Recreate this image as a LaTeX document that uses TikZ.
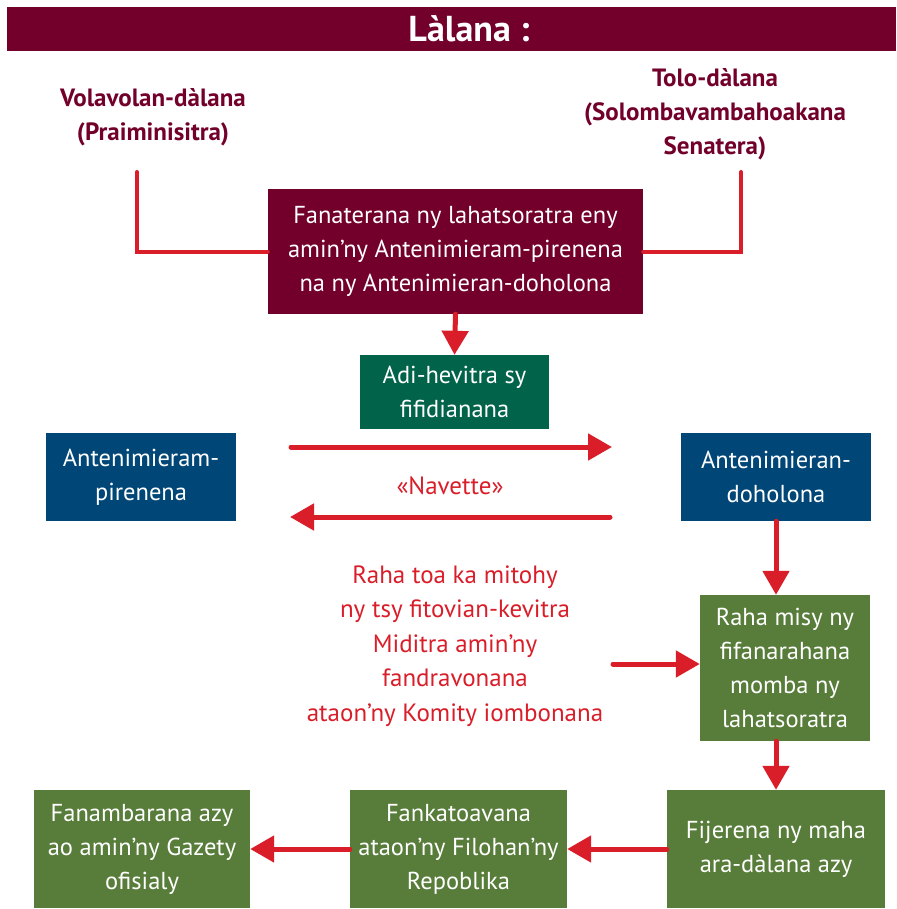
\documentclass[tikz,border=0pt]{standalone}
\usepackage{fontspec}
\setmainfont{PT Sans}
\usetikzlibrary{arrows.meta}
\definecolor{maroon}{HTML}{72002B}
\definecolor{dgreen}{HTML}{00634A}
\definecolor{dblue}{HTML}{004677}
\definecolor{lgreen}{HTML}{587D3A}
\definecolor{ared}{HTML}{D91E2A}
\tikzset{
  box/.style={rectangle, inner sep=0pt, align=center, text=white, font=\fontsize{24.5}{34}\selectfont},
  lbl/.style={align=center, text=maroon, font=\fontsize{25}{34}\selectfont\bfseries},
  rtext/.style={align=center, text=ared, font=\fontsize{25}{34.5}\selectfont},
  conn/.style={draw=ared, line width=4pt, line cap=round},
  arr/.style={draw=ared, line width=5pt, line cap=round, -{Triangle[length=24pt,width=26pt]}}
}
\begin{document}
\begin{tikzpicture}[x=1pt,y=-1pt]
\useasboundingbox (0,0) rectangle (896,909);
\fill[white] (0,0) rectangle (896,909);
% title
\node[rectangle, fill=maroon, minimum width=889pt, minimum height=44pt, inner sep=0pt] (title) at (451.5,29) {};
\node[text=white, font=\fontsize{36}{38}\selectfont\bfseries] (ttext) at (469,29) {Làlana :};
% labels
\node[lbl] (vol) at (153,117) {Volavolan-dàlana\\(Praiminisitra)};
\node[lbl] (tol) at (715,114) {Tolo-dàlana\\(Solombavambahoakana\\Senatera)};
% boxes
\node[box, fill=maroon, minimum width=375pt, minimum height=125pt] (fan) at (455.5,251.5) {Fanaterana ny lahatsoratra eny\\amin’ny Antenimieram-pirenena\\na ny Antenimieran-doholona};
\node[box, fill=dgreen, minimum width=189pt, minimum height=74pt] (adi) at (454.5,392) {Adi-hevitra sy\\fifidianana};
\node[box, fill=dblue, minimum width=190pt, minimum height=88pt] (ap) at (141,477) {Antenimieram-\\pirenena};
\node[box, fill=dblue, minimum width=190pt, minimum height=88pt] (ad) at (776,477) {Antenimieran-\\doholona};
\node[box, fill=lgreen, minimum width=170pt, minimum height=146pt] (raha) at (785,668) {Raha misy ny\\fifanarahana\\momba ny\\lahatsoratra};
\node[box, fill=lgreen, minimum width=218pt, minimum height=118pt] (fij) at (776,849) {Fijerena ny maha\\ara-dàlana azy};
\node[box, fill=lgreen, minimum width=217pt, minimum height=118pt] (fank) at (458.5,849) {Fankatoavana\\ataon’ny Filohan’ny\\Repoblika};
\node[box, fill=lgreen, minimum width=216pt, minimum height=118pt] (fanb) at (142,849) {Fanambarana azy\\ao amin’ny Gazety\\ofisialy};
% red texts
\node[rtext] (nav) at (450,486) {«Navette»};
\node[rtext] (cmp) at (455,646) {Raha toa ka mitohy\\ny tsy fitovian-kevitra\\Miditra amin’ny\\fandravonana\\ataon’ny Komity iombonana};
% coordinates
\coordinate (lt) at (137,172);
\coordinate (rt) at (741,172);
\coordinate (n1s) at (291,447);
\coordinate (n1e) at (612,447);
\coordinate (n2s) at (610,517);
\coordinate (n2e) at (290,517);
\coordinate (cs) at (613,664);
% connectors
\draw[conn] (lt) |- (fan.west);
\draw[conn] (rt) |- (fan.east);
\draw[arr] (fan.south) -- (adi.north);
\draw[arr] (n1s) -- (n1e);
\draw[arr] (n2s) -- (n2e);
\draw[arr] (ad.south) -- (ad.south |- raha.north);
\draw[arr] (cs) -- (cs -| raha.west);
\draw[arr] (fij.north |- raha.south) -- (fij.north);
\draw[arr] (fij.west) -- (fank.east);
\draw[arr] (fank.west) -- (fanb.east);
\end{tikzpicture}
\end{document}
